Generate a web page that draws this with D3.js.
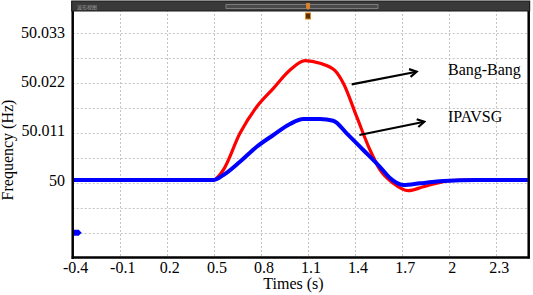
<!DOCTYPE html>
<html><head><meta charset="utf-8">
<script src="https://cdn.jsdelivr.net/npm/d3@7"></script>
<style>
html,body{margin:0;padding:0;background:#fff;}
svg{display:block;font-family:"Liberation Serif","Times New Roman",serif;}
</style></head>
<body>
<svg id="chart" width="533" height="295"></svg>
<script>
// ---- data ----
const xTicks = [-0.4, -0.1, 0.2, 0.5, 0.8, 1.1, 1.4, 1.7, 2, 2.3];
const xTickLabels = ["-0.4", "-0.1", "0.2", "0.5", "0.8", "1.1", "1.4", "1.7", "2", "2.3"];
const yTicks = [50, 50.011, 50.022, 50.033];
const yTickLabels = ["50", "50.011", "50.022", "50.033"];
const yGrid = [50.033, 50.0274, 50.0218, 50.0162, 50.0106, 50.005, 49.9994, 49.9938, 49.9882];

const bangTime = [-0.4, 0.496, 0.56, 0.666, 0.773, 0.879, 0.985, 1.081, 1.176, 1.272, 1.325, 1.41, 1.495, 1.559, 1.643, 1.739, 1.835, 1.92, 2.0, 2.1, 2.5];
const bangFreq = [50, 50, 50.00224, 50.01046, 50.01642, 50.02054, 50.02464, 50.02673, 50.02614, 50.02449, 50.02166, 50.01418, 50.00672, 50.00224, 49.99926, 49.9976, 49.9985, 49.99926, 49.99985, 50, 50];

const ipaTime = [-0.4, 0.496, 0.56, 0.666, 0.773, 0.879, 0.985, 1.07, 1.176, 1.261, 1.346, 1.452, 1.559, 1.622, 1.707, 1.813, 1.92, 2.068, 2.3, 2.5];
const ipaFreq = [50, 50, 50.00112, 50.0041, 50.00746, 50.01008, 50.01255, 50.01367, 50.01367, 50.01329, 50.01046, 50.00672, 50.00291, 50.00045, 49.99888, 49.99926, 49.99966, 49.99995, 50, 50];

const seriesNames = ["Bang-Bang", "IPAVSG"];
const seriesColors = ["#ff0000", "#0000ff"];
// annotation arrows [x0,y0,x1,y1] and label anchors [x,y], data coords
const arrows = [[1.378, 50.02144, 1.792, 50.02426], [1.427, 50.01008, 1.841, 50.01306]];
const labelPos = [[1.992, 50.02352], [1.992, 50.01299]];
const markerPt = [[-0.4, 49.9882]];

// ---- layout ----
const svg = d3.select("#chart");
const L = 72.7, R = 527.7, T = 2, B = 257.5;
const x = d3.scaleLinear().domain([-0.4, 2.5]).range([L, R]);
const y = d3.scaleLinear().domain([49.98264, 50.03988]).range([B, T]);

svg.append("rect").attr("width", 533).attr("height", 295).attr("fill", "#fff");

// grid
const grid = svg.append("g").attr("stroke", "#c4c4c4").attr("stroke-width", 1).attr("stroke-dasharray", "2,2");
grid.selectAll("line.v").data(xTicks.slice(1)).join("line")
  .attr("x1", d => Math.round(x(d)) + 0.5).attr("x2", d => Math.round(x(d)) + 0.5)
  .attr("y1", T).attr("y2", B);
grid.selectAll("line.h").data(yGrid).join("line")
  .attr("y1", d => Math.round(y(d)) + 0.5).attr("y2", d => Math.round(y(d)) + 0.5)
  .attr("x1", L).attr("x2", R);

// lines
const line = d3.line().curve(d3.curveMonotoneX).x(d => x(d[0])).y(d => y(d[1]));
const bang = bangTime.map((t, i) => [t, bangFreq[i]]);
const ipa = ipaTime.map((t, i) => [t, ipaFreq[i]]);
svg.append("path").datum(bang).attr("d", line).attr("fill", "none")
  .attr("stroke", seriesColors[0]).attr("stroke-width", 3.2).attr("stroke-linejoin", "round");
svg.append("path").datum(ipa).attr("d", line).attr("fill", "none")
  .attr("stroke", seriesColors[1]).attr("stroke-width", 4).attr("stroke-linejoin", "round");

// blue marker at left
svg.selectAll("path.mk").data(markerPt).join("path")
  .attr("transform", d => `translate(${x(d[0])},${y(d[1])})`)
  .attr("d", "M0,-3 L6,-3 L9,0 L6,3 L0,3 Z").attr("fill", "#0000ff");

// frame
svg.append("line").attr("x1", L).attr("x2", L).attr("y1", 1).attr("y2", B + 1.5).attr("stroke", "#000").attr("stroke-width", 2.5);
svg.append("line").attr("x1", L - 1).attr("x2", R + 2).attr("y1", B).attr("y2", B).attr("stroke", "#000").attr("stroke-width", 2.5);
svg.append("line").attr("x1", R + 1).attr("x2", R + 1).attr("y1", 1).attr("y2", B + 1).attr("stroke", "#000").attr("stroke-width", 2.5);

// top toolbar
svg.append("rect").attr("x", L - 1).attr("y", 1).attr("width", R - L + 3).attr("height", 10)
  .attr("fill", "#3a3a3a").attr("stroke", "#1a1a1a").attr("stroke-width", 1);
svg.append("text").attr("x", 77).attr("y", 8.5).attr("font-size", 5).attr("fill", "#9a9a9a")
  .attr("font-family", "Noto Sans CJK SC").text("波形视图");
svg.append("rect").attr("x", 226).attr("y", 4.5).attr("width", 152).attr("height", 4)
  .attr("fill", "#4a4a4a").attr("stroke", "#8a8a8a").attr("stroke-width", 0.8);
// time cursor marker
const mx = x(1.1);
svg.append("path").attr("d", `M${mx - 2},3 L${mx + 2},3 L${mx + 2},8 L${mx},10 L${mx - 2},8 Z`).attr("fill", "#d9822b");
svg.append("rect").attr("x", mx - 2.5).attr("y", 13).attr("width", 5).attr("height", 6)
  .attr("fill", "#5a3000").attr("stroke", "#e08a20").attr("stroke-width", 1);

// tick labels
svg.append("g").selectAll("text").data(xTicks).join("text")
  .attr("x", d => x(d) + 3).attr("y", 273).attr("text-anchor", "middle")
  .attr("font-size", 16).attr("fill", "#000").text((d, i) => xTickLabels[i]);
svg.append("g").selectAll("text").data(yTicks).join("text")
  .attr("x", 65).attr("y", d => y(d) + 5.5).attr("text-anchor", "end")
  .attr("font-size", 16).attr("fill", "#000").text((d, i) => yTickLabels[i]);

// axis titles
svg.append("text").attr("x", 293.5).attr("y", 289).attr("text-anchor", "middle")
  .attr("font-size", 16).text("Times (s)");
svg.append("text").attr("transform", "translate(13,150) rotate(-90)").attr("text-anchor", "middle")
  .attr("font-size", 16).text("Frequency (Hz)");

// annotations
svg.append("defs").append("marker").attr("id", "ah").attr("viewBox", "0 0 10 10")
  .attr("refX", 8).attr("refY", 5).attr("markerWidth", 4.5).attr("markerHeight", 4.5)
  .attr("orient", "auto").append("path").attr("d", "M1,1 L8,5 L1,9").attr("fill", "none")
  .attr("stroke", "#000").attr("stroke-width", 2.2);
svg.append("g").selectAll("line").data(arrows).join("line")
  .attr("x1", d => x(d[0])).attr("y1", d => y(d[1])).attr("x2", d => x(d[2])).attr("y2", d => y(d[3]))
  .attr("stroke", "#000").attr("stroke-width", 2.2).attr("marker-end", "url(#ah)");
svg.append("g").selectAll("text").data(labelPos).join("text")
  .attr("x", d => x(d[0])).attr("y", d => y(d[1])).attr("font-size", 16).attr("fill", "#000")
  .text((d, i) => seriesNames[i]);
</script>
</body></html>
